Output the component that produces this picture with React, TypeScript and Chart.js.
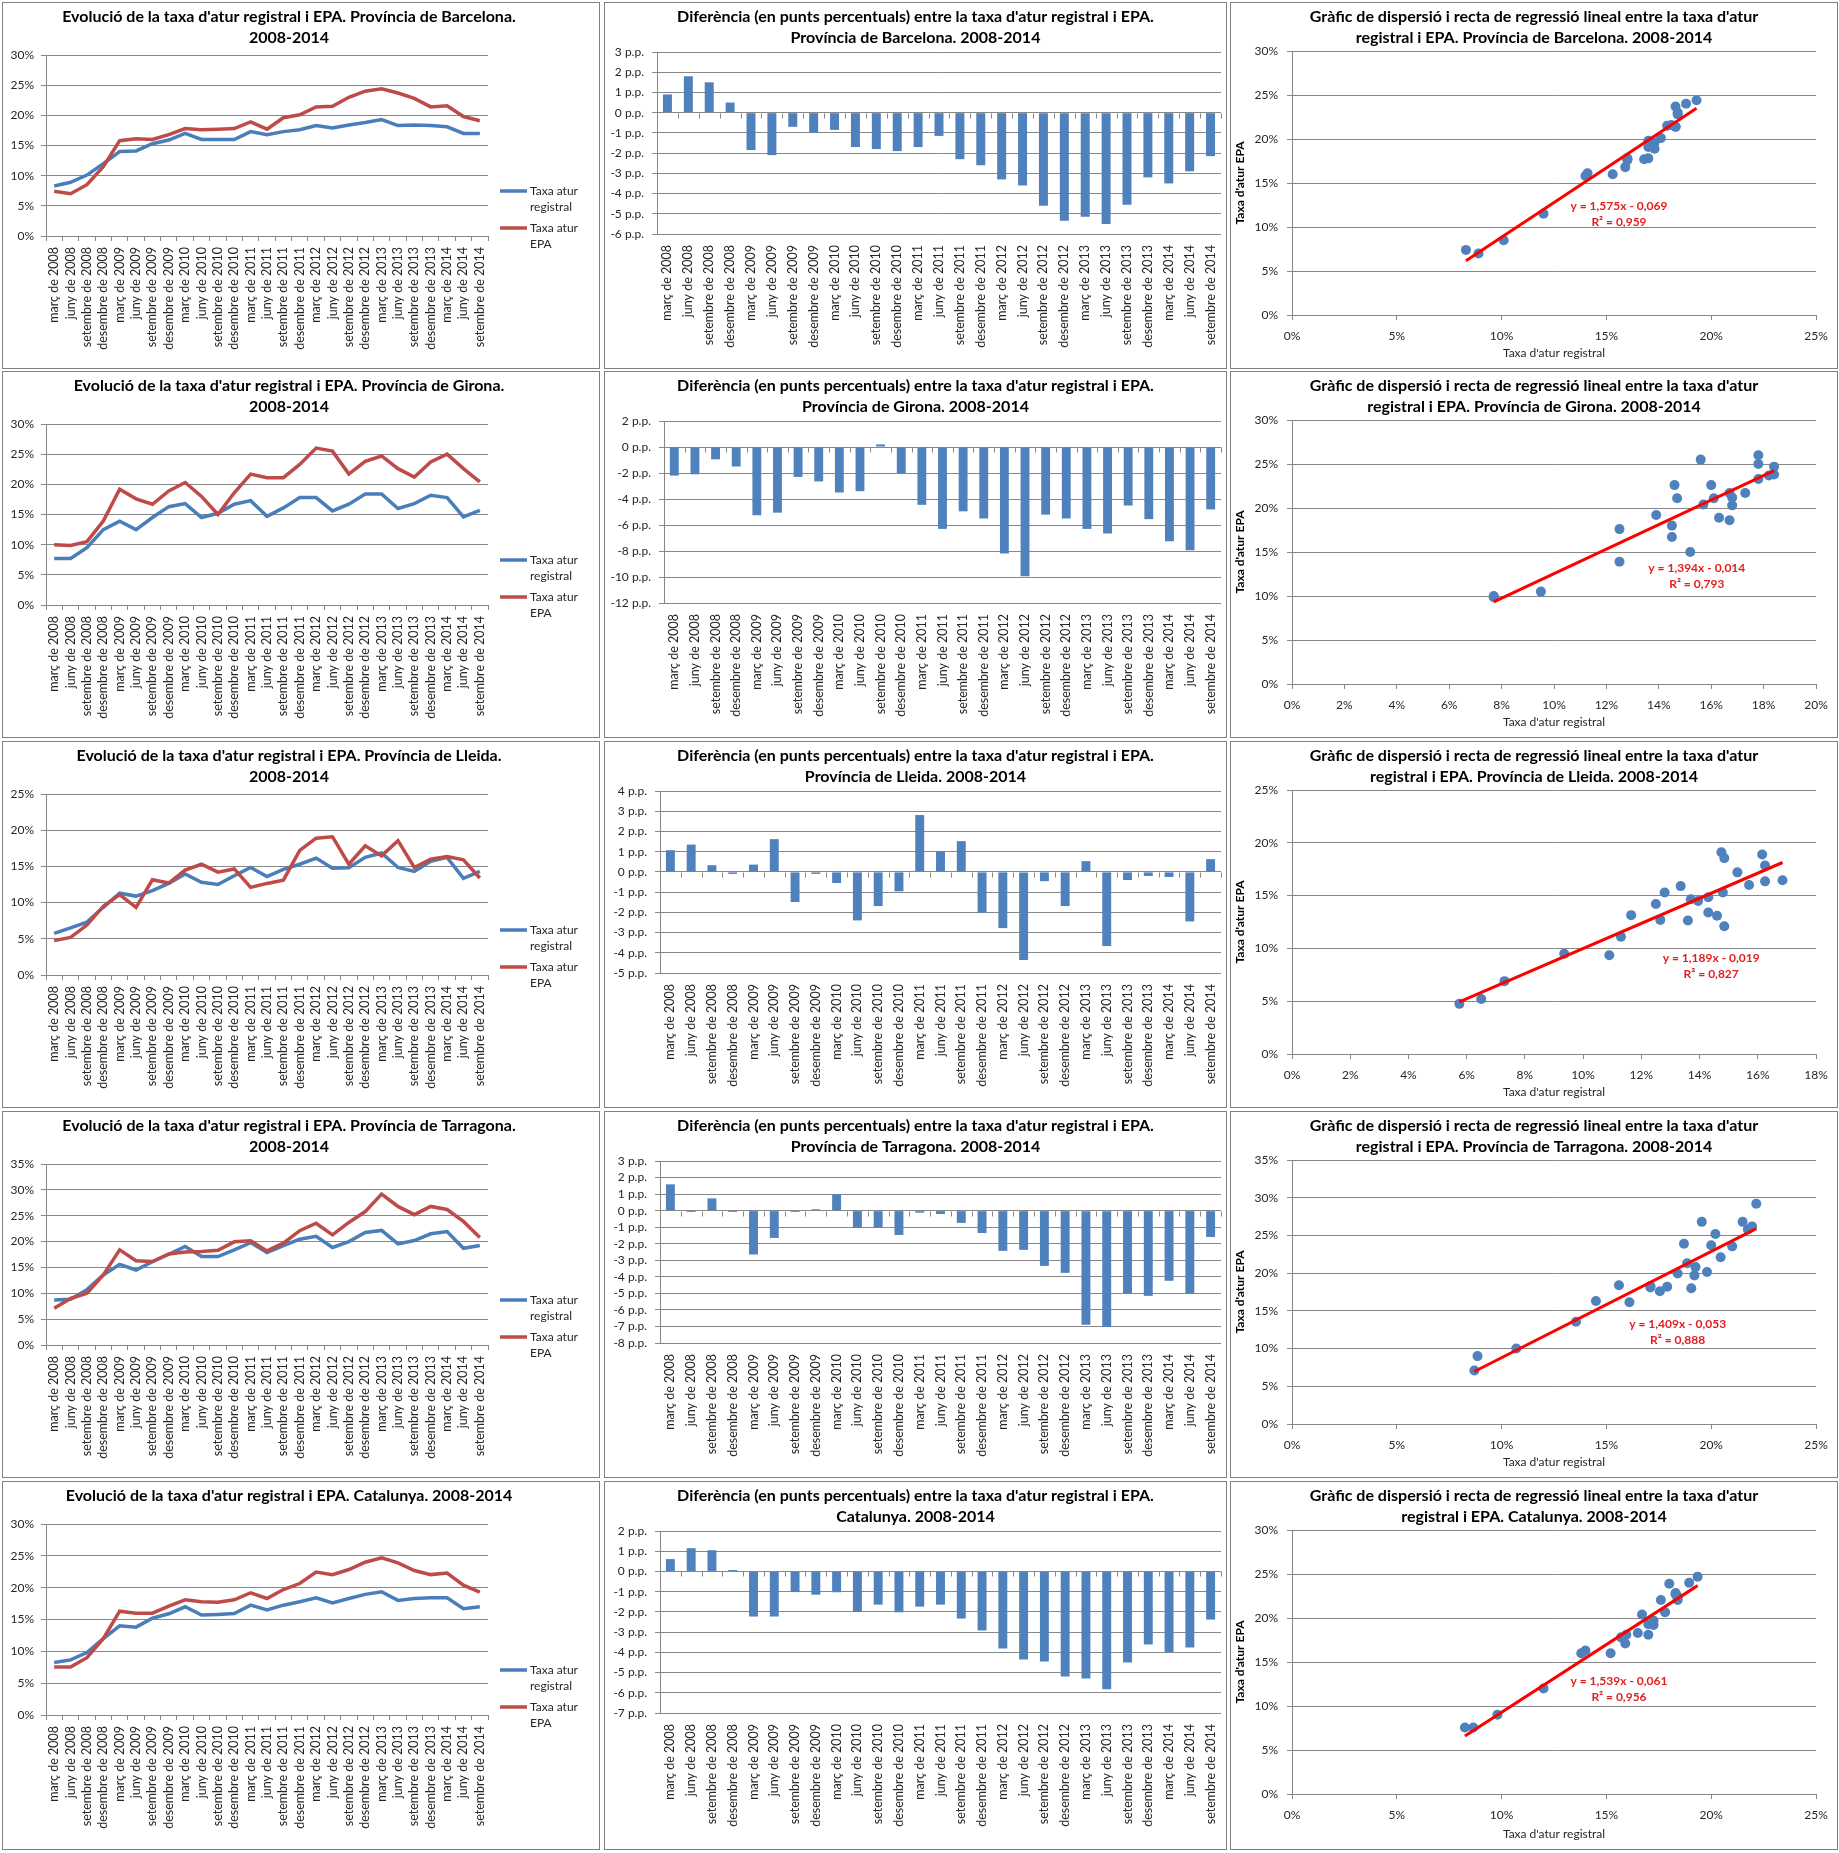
import React, { useEffect, useRef } from "react";
import { Chart, registerables } from "chart.js";

Chart.register(...registerables);

const FONT = "Lato, 'Noto Sans', 'DejaVu Sans', sans-serif";
Chart.defaults.font.family = FONT;
Chart.defaults.font.size = 12;
Chart.defaults.color = "#262626";

// ---------- categories ----------
const quarters = [
  "març de 2008", "juny de 2008", "setembre de 2008", "desembre de 2008",
  "març de 2009", "juny de 2009", "setembre de 2009", "desembre de 2009",
  "març de 2010", "juny de 2010", "setembre de 2010", "desembre de 2010",
  "març de 2011", "juny de 2011", "setembre de 2011", "desembre de 2011",
  "març de 2012", "juny de 2012", "setembre de 2012", "desembre de 2012",
  "març de 2013", "juny de 2013", "setembre de 2013", "desembre de 2013",
  "març de 2014", "juny de 2014", "setembre de 2014",
];

// ---------- series (percent) ----------
const bcnRegistral = [8.3, 8.9, 10.1, 12.0, 14.0, 14.1, 15.3, 15.9, 17.0, 16.0, 16.0, 16.0, 17.3, 16.8, 17.3, 17.6, 18.3, 17.9, 18.4, 18.8, 19.3, 18.3, 18.4, 18.3, 18.1, 17.0, 17.0];
const bcnEpa = [7.4, 7.0, 8.5, 11.5, 15.8, 16.1, 16.0, 16.8, 17.8, 17.6, 17.7, 17.8, 18.9, 17.7, 19.6, 20.1, 21.4, 21.5, 23.0, 24.0, 24.4, 23.7, 22.8, 21.4, 21.6, 19.8, 19.1];
const bcnDiff = [0.9, 1.8, 1.5, 0.5, -1.85, -2.1, -0.7, -1.0, -0.85, -1.7, -1.8, -1.9, -1.7, -1.15, -2.3, -2.6, -3.3, -3.6, -4.6, -5.35, -5.15, -5.5, -4.55, -3.2, -3.5, -2.9, -2.15];

const girRegistral = [7.7, 7.7, 9.5, 12.5, 13.9, 12.5, 14.5, 16.3, 16.8, 14.5, 15.2, 16.7, 17.3, 14.7, 16.1, 17.8, 17.8, 15.6, 16.7, 18.4, 18.4, 16.0, 16.8, 18.2, 17.8, 14.6, 15.7];
const girEpa = [10.0, 9.85, 10.5, 13.9, 19.2, 17.6, 16.7, 18.9, 20.3, 18.0, 15.0, 18.6, 21.7, 21.1, 21.1, 23.3, 26.0, 25.5, 21.7, 23.8, 24.7, 22.6, 21.2, 23.7, 25.0, 22.6, 20.4];
const girDiff = [-2.2, -2.1, -0.95, -1.5, -5.25, -5.05, -2.3, -2.65, -3.5, -3.4, 0.2, -2.0, -4.45, -6.3, -4.95, -5.5, -8.2, -9.95, -5.2, -5.5, -6.3, -6.65, -4.5, -5.55, -7.25, -7.95, -4.8];

const llRegistral = [5.75, 6.5, 7.3, 9.35, 11.3, 10.9, 11.65, 12.65, 13.95, 12.8, 12.5, 13.7, 14.85, 13.6, 14.6, 15.3, 16.15, 14.75, 14.8, 16.25, 16.85, 14.85, 14.3, 15.7, 16.25, 13.35, 14.3];
const llEpa = [4.75, 5.2, 6.9, 9.5, 11.1, 9.35, 13.15, 12.7, 14.5, 15.3, 14.2, 14.65, 12.1, 12.65, 13.1, 17.2, 18.9, 19.1, 15.3, 17.85, 16.45, 18.55, 14.85, 16.0, 16.35, 15.9, 13.4];
const llDiff = [1.07, 1.35, 0.33, -0.1, 0.36, 1.62, -1.49, -0.1, -0.55, -2.4, -1.69, -0.96, 2.81, 1.02, 1.52, -2.02, -2.78, -4.36, -0.46, -1.69, 0.53, -3.67, -0.4, -0.2, -0.25, -2.45, 0.63];

const tgnRegistral = [8.7, 8.85, 10.7, 13.55, 15.6, 14.5, 16.1, 17.55, 19.05, 17.1, 17.1, 18.4, 19.8, 17.9, 19.2, 20.45, 21.0, 18.85, 20.0, 21.75, 22.15, 19.55, 20.2, 21.5, 21.95, 18.7, 19.25];
const tgnEpa = [7.1, 9.0, 10.0, 13.55, 18.4, 16.3, 16.15, 17.6, 18.0, 18.1, 18.3, 19.95, 20.15, 18.2, 19.7, 22.1, 23.55, 21.3, 23.7, 25.8, 29.2, 26.8, 25.2, 26.8, 26.2, 23.9, 20.8];
const tgnDiff = [1.59, -0.08, 0.74, -0.08, -2.65, -1.65, -0.08, 0.08, 0.98, -1.02, -1.02, -1.47, -0.12, -0.2, -0.74, -1.35, -2.43, -2.37, -3.34, -3.76, -6.9, -7.04, -4.99, -5.15, -4.24, -5.0, -1.59];

const catRegistral = [8.25, 8.65, 9.8, 12.0, 14.0, 13.8, 15.2, 15.9, 17.0, 15.7, 15.8, 15.95, 17.25, 16.5, 17.25, 17.8, 18.4, 17.6, 18.3, 18.95, 19.35, 18.0, 18.3, 18.4, 18.4, 16.7, 17.0];
const catEpa = [7.55, 7.55, 9.0, 12.0, 16.3, 16.0, 16.0, 17.1, 18.1, 17.8, 17.7, 18.1, 19.2, 18.3, 19.7, 20.65, 22.45, 22.05, 22.85, 24.0, 24.7, 23.9, 22.7, 22.05, 22.3, 20.4, 19.3];
const catDiff = [0.61, 1.15, 1.05, 0.07, -2.23, -2.23, -1.02, -1.15, -1.03, -2.0, -1.64, -2.02, -1.74, -1.64, -2.33, -2.92, -3.81, -4.35, -4.45, -5.19, -5.3, -5.83, -4.5, -3.61, -3.99, -3.76, -2.38];

// ---------- per-region axis settings ----------
const lineYMax = [30, 30, 25, 35, 30];
const barMin = [-6, -12, -5, -8, -7];
const barMax = [3, 2, 4, 3, 2];
const barStep = [1, 2, 1, 1, 1];
const scatterXMax = [25, 20, 18, 25, 25];
const scatterXStep = [5, 2, 2, 5, 5];
const scatterYMax = [30, 30, 25, 35, 30];

// ---------- regression lines (from the chart labels) ----------
const trendSlope = [1.575, 1.394, 1.189, 1.409, 1.539];
const trendIntercept = [-0.069, -0.014, -0.019, -0.053, -0.061];
const trendEqText = ["y = 1,575x - 0,069", "y = 1,394x - 0,014", "y = 1,189x - 0,019", "y = 1,409x - 0,053", "y = 1,539x - 0,061"];
const trendR2Text = ["R² = 0,959", "R² = 0,793", "R² = 0,827", "R² = 0,888", "R² = 0,956"];
const trendLabelX = [15.6, 15.45, 14.4, 18.4, 15.6];
const trendLabelY = [12.4, 13.2, 9.1, 13.3, 12.8];

// ---------- titles ----------
const lineTitles = [
  ["Evolució de la taxa d'atur registral i EPA. Província de Barcelona.", "2008-2014"],
  ["Evolució de la taxa d'atur registral i EPA. Província de Girona.", "2008-2014"],
  ["Evolució de la taxa d'atur registral i EPA. Província de Lleida.", "2008-2014"],
  ["Evolució de la taxa d'atur registral i EPA. Província de Tarragona.", "2008-2014"],
  ["Evolució de la taxa d'atur registral i EPA. Catalunya. 2008-2014"],
];
const barTitles = [
  ["Diferència (en punts percentuals) entre la taxa d'atur registral i EPA.", "Província de Barcelona. 2008-2014"],
  ["Diferència (en punts percentuals) entre la taxa d'atur registral i EPA.", "Província de Girona. 2008-2014"],
  ["Diferència (en punts percentuals) entre la taxa d'atur registral i EPA.", "Província de Lleida. 2008-2014"],
  ["Diferència (en punts percentuals) entre la taxa d'atur registral i EPA.", "Província de Tarragona. 2008-2014"],
  ["Diferència (en punts percentuals) entre la taxa d'atur registral i EPA.", "Catalunya. 2008-2014"],
];
const scatterTitles = [
  ["Gràfic de dispersió i recta de regressió lineal entre la taxa d'atur", "registral i EPA. Província de Barcelona. 2008-2014"],
  ["Gràfic de dispersió i recta de regressió lineal entre la taxa d'atur", "registral i EPA. Província de Girona. 2008-2014"],
  ["Gràfic de dispersió i recta de regressió lineal entre la taxa d'atur", "registral i EPA. Província de Lleida. 2008-2014"],
  ["Gràfic de dispersió i recta de regressió lineal entre la taxa d'atur", "registral i EPA. Província de Tarragona. 2008-2014"],
  ["Gràfic de dispersió i recta de regressió lineal entre la taxa d'atur", "registral i EPA. Catalunya. 2008-2014"],
];

const registralSeries = [bcnRegistral, girRegistral, llRegistral, tgnRegistral, catRegistral];
const epaSeries = [bcnEpa, girEpa, llEpa, tgnEpa, catEpa];
const diffSeries = [bcnDiff, girDiff, llDiff, tgnDiff, catDiff];

// ---------- styling ----------
const BLUE_LINE = "#4A7EBB";
const RED_LINE = "#BE4B48";
const BAR_BLUE = "#4F81BD";
const GRID = "#878787";
const TREND = "#FF0000";
const TITLE_FONT = { family: FONT, size: 16, weight: "bold" as const, lineHeight: 21 / 16 };
const CAT_FONT = { size: 12.5 };

const colX = [2, 604, 1230];
const colW = [598, 623, 608];
const rowY = [2, 371, 741, 1111, 1481];
const rowH = [367, 367, 367, 367, 369];
const barAxisWidth = [52, 59, 55, 55, 55];
const LINE_PAD_RIGHT = 24;

// ---------- plugins ----------
const sideLegend = {
  id: "sideLegend",
  afterDraw(chart: any) {
    const { ctx, chartArea } = chart;
    ctx.save();
    ctx.font = `12px ${FONT}`;
    ctx.textBaseline = "middle";
    ctx.textAlign = "left";
    chart.data.datasets.forEach((ds: any, i: number) => {
      const y = 188 + i * 37;
      const x0 = chartArea.right + 12;
      ctx.strokeStyle = ds.borderColor;
      ctx.lineWidth = 3.5;
      ctx.beginPath();
      ctx.moveTo(x0, y);
      ctx.lineTo(x0 + 27, y);
      ctx.stroke();
      ctx.fillStyle = "#262626";
      String(ds.label).split("\n").forEach((t, j) => ctx.fillText(t, x0 + 30, y + j * 16));
    });
    ctx.restore();
  },
};

const zeroTicks = {
  id: "zeroTicks",
  afterDatasetsDraw(chart: any) {
    const { ctx } = chart;
    const xs = chart.scales.x;
    const ys = chart.scales.y;
    const y0 = Math.round(ys.getPixelForValue(0)) + 0.5;
    const n = chart.data.labels.length;
    ctx.save();
    ctx.strokeStyle = GRID;
    ctx.lineWidth = 1;
    ctx.beginPath();
    for (let i = 0; i <= n; i++) {
      const px = Math.round(xs.left + ((xs.right - xs.left) * i) / n) + 0.5;
      ctx.moveTo(px, y0);
      ctx.lineTo(px, y0 + 5);
    }
    ctx.stroke();
    ctx.restore();
  },
};

const eqLabel = {
  id: "eqLabel",
  afterDatasetsDraw(chart: any, _args: any, opts: any) {
    const { ctx } = chart;
    const px = chart.scales.x.getPixelForValue(opts.x);
    const py = chart.scales.y.getPixelForValue(opts.y);
    ctx.save();
    ctx.font = `bold 12px ${FONT}`;
    ctx.fillStyle = "#E41E1E";
    ctx.textAlign = "center";
    ctx.textBaseline = "middle";
    ctx.fillText(opts.eq, px, py);
    ctx.fillText(opts.r2, px, py + 16);
    ctx.restore();
  },
};

const zeroPad = (s: any) => {
  s.paddingLeft = 0;
  s.paddingRight = 0;
  s.paddingTop = 0;
  s.paddingBottom = 0;
};

const spacer = (width: number) => ({
  type: "linear",
  position: "right",
  display: true,
  grid: { display: false, drawTicks: false },
  ticks: { display: false },
  border: { display: false },
  afterFit: (s: any) => {
    s.width = width;
    zeroPad(s);
  },
});

// ---------- chart configs ----------
function lineConfig(i: number, w: number, h: number): any {
  const title = lineTitles[i];
  return {
    type: "line",
    data: {
      labels: quarters,
      datasets: [
        { label: "Taxa atur\nregistral", data: registralSeries[i], borderColor: BLUE_LINE, backgroundColor: BLUE_LINE, borderWidth: 3.5, pointRadius: 0, tension: 0, order: 1 },
        { label: "Taxa atur\nEPA", data: epaSeries[i], borderColor: RED_LINE, backgroundColor: RED_LINE, borderWidth: 3.5, pointRadius: 0, tension: 0, order: 0 },
      ],
    },
    options: {
      responsive: false,
      animation: false,
      events: [],
      layout: { padding: { left: 0, right: LINE_PAD_RIGHT, top: 0, bottom: 0 } },
      plugins: {
        legend: { display: false },
        tooltip: { enabled: false },
        title: { display: true, text: title, color: "#000", font: TITLE_FONT, padding: { top: 3, bottom: title.length > 1 ? 7 : 18 } },
      },
      scales: {
        x: {
          type: "category",
          offset: true,
          grid: { offset: true, drawOnChartArea: false, tickLength: 5, color: GRID },
          border: { color: GRID },
          ticks: { autoSkip: false, minRotation: 90, maxRotation: 90, padding: 6, font: CAT_FONT },
          afterFit: (s: any) => {
            s.height = h - 233;
            zeroPad(s);
          },
        },
        y: {
          min: 0,
          max: lineYMax[i],
          ticks: { stepSize: 5, autoSkip: false, padding: 7, font: { size: 12 }, callback: (v: any) => `${v}%` },
          grid: { color: GRID, tickLength: 5 },
          border: { color: GRID },
          afterFit: (s: any) => {
            s.width = 43;
            zeroPad(s);
          },
        },
        yR: spacer(w - LINE_PAD_RIGHT - 485),
      },
    },
    plugins: [sideLegend],
  };
}

function barConfig(i: number, w: number, h: number): any {
  return {
    type: "bar",
    data: {
      labels: quarters,
      datasets: [{ label: "Diferència", data: diffSeries[i], backgroundColor: BAR_BLUE, barPercentage: 0.43, categoryPercentage: 1 }],
    },
    options: {
      responsive: false,
      animation: false,
      events: [],
      layout: { padding: 0 },
      plugins: {
        legend: { display: false },
        tooltip: { enabled: false },
        title: { display: true, text: barTitles[i], color: "#000", font: TITLE_FONT, padding: { top: 3, bottom: 4 } },
      },
      scales: {
        x: {
          type: "category",
          grid: { display: false, drawTicks: false },
          border: { display: false },
          ticks: { autoSkip: false, minRotation: 90, maxRotation: 90, padding: 11, font: CAT_FONT },
          afterFit: (s: any) => {
            s.height = h - 231;
            zeroPad(s);
          },
        },
        y: {
          min: barMin[i],
          max: barMax[i],
          ticks: { stepSize: barStep[i], autoSkip: false, padding: 8, font: { size: 12 }, callback: (v: any) => `${v} p.p.` },
          grid: { color: GRID, tickLength: 5 },
          border: { color: GRID },
          afterFit: (s: any) => {
            s.width = barAxisWidth[i];
            zeroPad(s);
          },
        },
        yR: spacer(w - 616),
      },
    },
    plugins: [zeroTicks],
  };
}

function scatterConfig(i: number, w: number, h: number): any {
  const reg = registralSeries[i];
  const epa = epaSeries[i];
  const points = reg.map((x, k) => ({ x, y: epa[k] }));
  const xMin = Math.min(...reg);
  const xMax = Math.max(...reg);
  const trend = [
    { x: xMin, y: trendSlope[i] * xMin + trendIntercept[i] * 100 },
    { x: xMax, y: trendSlope[i] * xMax + trendIntercept[i] * 100 },
  ];
  return {
    type: "scatter",
    data: {
      datasets: [
        { label: "Lineal", data: trend, showLine: true, borderColor: TREND, backgroundColor: TREND, borderWidth: 3, pointRadius: 0, order: 0 },
        { label: "Taxa d'atur EPA", data: points, backgroundColor: BAR_BLUE, borderColor: BAR_BLUE, pointRadius: 5, borderWidth: 0, order: 1 },
      ],
    },
    options: {
      responsive: false,
      animation: false,
      events: [],
      layout: { padding: 0 },
      plugins: {
        legend: { display: false },
        tooltip: { enabled: false },
        title: { display: true, text: scatterTitles[i], color: "#000", font: TITLE_FONT, padding: { top: 3, bottom: 3 } },
        eqLabel: { eq: trendEqText[i], r2: trendR2Text[i], x: trendLabelX[i], y: trendLabelY[i] },
      },
      scales: {
        x: {
          type: "linear",
          min: 0,
          max: scatterXMax[i],
          ticks: { stepSize: scatterXStep[i], autoSkip: false, padding: 9, font: { size: 12 }, callback: (v: any) => `${v}%` },
          grid: { drawOnChartArea: false, tickLength: 5, color: GRID },
          border: { color: GRID },
          title: { display: true, text: "Taxa d'atur registral", color: "#262626", font: { size: 12 }, padding: { top: 0, bottom: 8 } },
          afterFit: (s: any) => {
            s.height = h - 312;
            zeroPad(s);
          },
        },
        y: {
          type: "linear",
          min: 0,
          max: scatterYMax[i],
          ticks: { stepSize: 5, autoSkip: false, padding: 9, font: { size: 12 }, callback: (v: any) => `${v}%` },
          grid: { color: GRID, tickLength: 5 },
          border: { color: GRID },
          title: { display: true, text: "Taxa d'atur EPA", color: "#000", font: { size: 12, weight: "bold" }, padding: { top: 2, bottom: 0 } },
          afterFit: (s: any) => {
            s.width = 61;
            zeroPad(s);
          },
        },
        yR: spacer(w - 585),
      },
    },
    plugins: [eqLabel],
  };
}

// ---------- components ----------
type PanelProps = { left: number; top: number; width: number; height: number; make: (w: number, h: number) => any };

function ChartPanel({ left, top, width, height, make }: PanelProps) {
  const ref = useRef<HTMLCanvasElement | null>(null);
  const w = width - 2;
  const h = height - 2;
  useEffect(() => {
    if (!ref.current) return;
    const chart = new Chart(ref.current, make(w, h));
    let alive = true;
    const fonts: any = (document as any).fonts;
    if (fonts && fonts.load) {
      Promise.all([fonts.load(`bold 16px Lato`), fonts.load(`12px Lato`)])
        .then(() => {
          if (alive) chart.update();
        })
        .catch(() => {});
    }
    return () => {
      alive = false;
      chart.destroy();
    };
  }, []);
  return (
    <div
      style={{
        position: "absolute",
        left,
        top,
        width,
        height,
        boxSizing: "border-box",
        border: "1px solid #7f7f7f",
        background: "#fff",
      }}
    >
      <canvas ref={ref} width={w} height={h} style={{ display: "block", width: w, height: h }} />
    </div>
  );
}

export default function App() {
  const panels: React.ReactNode[] = [];
  for (let r = 0; r < 5; r++) {
    panels.push(
      <ChartPanel key={`l${r}`} left={colX[0]} top={rowY[r]} width={colW[0]} height={rowH[r]} make={(w, h) => lineConfig(r, w, h)} />,
      <ChartPanel key={`b${r}`} left={colX[1]} top={rowY[r]} width={colW[1]} height={rowH[r]} make={(w, h) => barConfig(r, w, h)} />,
      <ChartPanel key={`s${r}`} left={colX[2]} top={rowY[r]} width={colW[2]} height={rowH[r]} make={(w, h) => scatterConfig(r, w, h)} />
    );
  }
  return (
    <div style={{ position: "absolute", left: 0, top: 0, width: 1839, height: 1853, background: "#fff", fontFamily: FONT }}>
      {panels}
    </div>
  );
}
